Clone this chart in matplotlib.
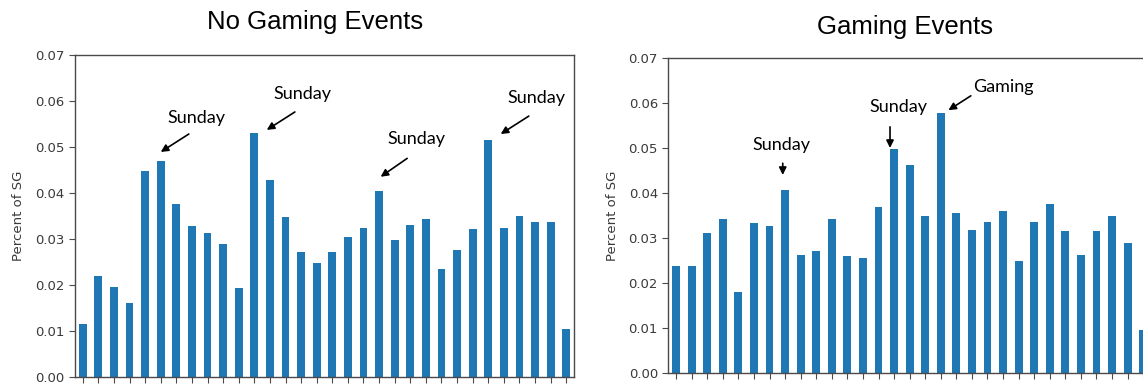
"""Daily share of SG, with and without gaming events, as side-by-side bar charts."""
import matplotlib

matplotlib.use("Agg")
import matplotlib.pyplot as plt
import numpy as np

no_gaming = [
    0.0115, 0.0218, 0.0196, 0.0160, 0.0447, 0.0470, 0.0376, 0.0328,
    0.0312, 0.0289, 0.0193, 0.0531, 0.0428, 0.0347, 0.0272, 0.0247,
    0.0272, 0.0305, 0.0324, 0.0405, 0.0298, 0.0330, 0.0343, 0.0234,
    0.0276, 0.0321, 0.0516, 0.0324, 0.0350, 0.0337, 0.0337, 0.0104,
]
gaming = [
    0.0238, 0.0238, 0.0312, 0.0344, 0.0180, 0.0334, 0.0328, 0.0408,
    0.0263, 0.0273, 0.0344, 0.0260, 0.0257, 0.0369, 0.0499, 0.0463,
    0.0350, 0.0579, 0.0356, 0.0318, 0.0337, 0.0360, 0.0250, 0.0337,
    0.0376, 0.0316, 0.0263, 0.0316, 0.0350, 0.0289, 0.0097,
]
yticks = [0.00, 0.01, 0.02, 0.03, 0.04, 0.05, 0.06, 0.07]

# (label, text position, arrow tail, arrow tip) in data coordinates
no_gaming_notes = [
    ("Sunday", (7.3, 0.0562), (6.8, 0.0528), (5.0, 0.0489)),
    ("Sunday", (14.1, 0.0615), (13.6, 0.0576), (11.8, 0.0537)),
    ("Sunday", (21.4, 0.0517), (20.8, 0.0475), (19.1, 0.0435)),
    ("Sunday", (29.1, 0.0606), (28.6, 0.0567), (26.8, 0.0528)),
]
gaming_notes = [
    ("Sunday", (6.74, 0.0508), (6.85, 0.0467), (6.85, 0.0441)),
    ("Sunday", (14.26, 0.0592), (13.74, 0.0548), (13.74, 0.0501)),
    ("Gaming", (21.0, 0.0637), (18.93, 0.0617), (17.49, 0.0585)),
]

BAR = "#1f77b4"
FRAME = "#4a4a4a"
NOTE_FONT = ["Lato", "DejaVu Sans"]

fig = plt.figure(figsize=(11.43, 3.85), dpi=100)
ax1 = fig.add_axes([0.0656, 0.0216, 0.4366, 0.8356])
ax2 = fig.add_axes([0.5847, 0.0304, 0.4359, 0.8177])


def draw_panel(ax, values, n_slots, notes):
    x = np.arange(len(values))
    ax.bar(x, values, width=0.5, color=BAR)
    ax.set_xlim(-0.5, n_slots - 0.5)
    ax.set_ylim(0, 0.07)
    ax.set_yticks(yticks)
    ax.set_yticklabels([f"{v:.2f}" for v in yticks])
    ax.set_xticks(np.arange(n_slots))
    ax.tick_params(axis="x", labelbottom=False, color=FRAME, length=4)
    ax.tick_params(axis="y", labelsize=9.5, labelcolor="#3a3a3a", color=FRAME, length=4)
    for sp in ax.spines.values():
        sp.set_color(FRAME)
        sp.set_linewidth(1.0)
    ax.set_ylabel("Percent of SG", fontsize=9.5, color="#3a3a3a", labelpad=7)
    for label, txt, tail, tip in notes:
        ax.text(*txt, label, ha="center", va="center", fontsize=13, family=NOTE_FONT)
        ax.annotate(
            "", xy=tip, xytext=tail,
            arrowprops=dict(arrowstyle="-|>", color="black", lw=1.2,
                            mutation_scale=11, shrinkA=0, shrinkB=0),
        )


draw_panel(ax1, no_gaming, 32, no_gaming_notes)
draw_panel(ax2, gaming, 32, gaming_notes)

fig.text(315 / 1143, 1 - 22 / 385, "No Gaming Events", ha="center", va="center",
         fontsize=18.5, family=["Liberation Sans", "DejaVu Sans"])
fig.text(905 / 1143, 1 - 27 / 385, "Gaming Events", ha="center", va="center",
         fontsize=18.5, family=["Liberation Sans", "DejaVu Sans"])

fig.savefig("out.png", dpi=100)
